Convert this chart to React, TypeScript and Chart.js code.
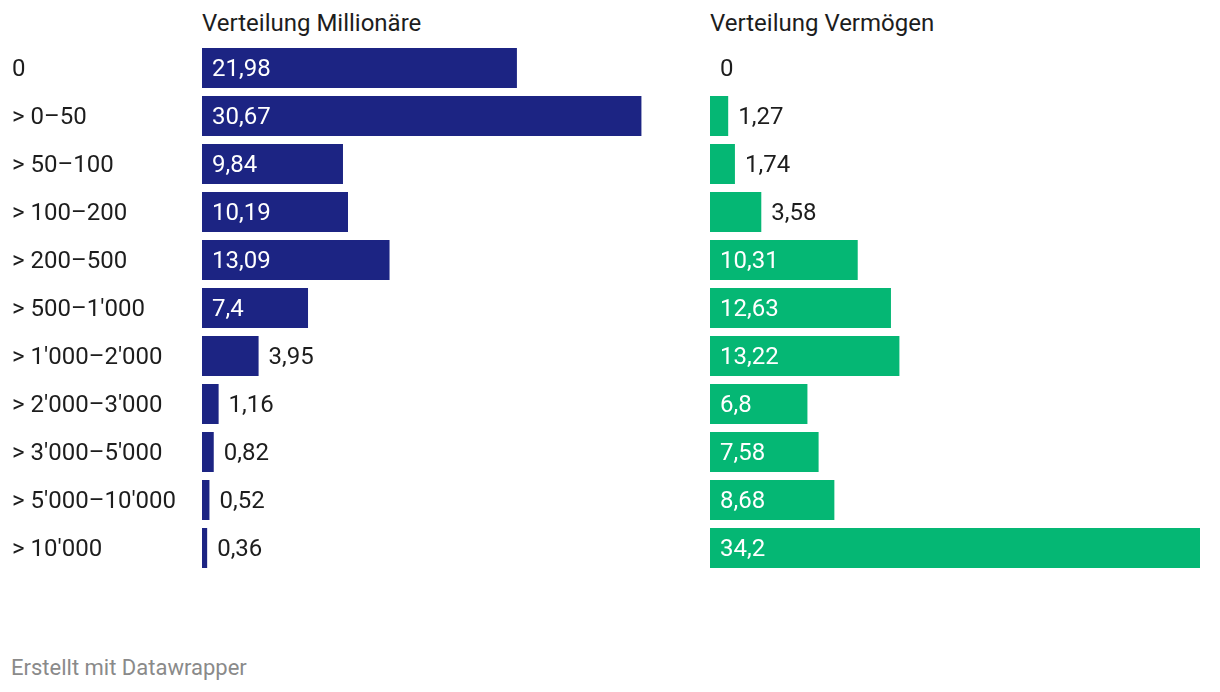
import React, { useEffect, useRef } from "react";
import { Chart, registerables } from "chart.js";

Chart.register(...registerables);

const categories = [
  "0",
  "> 0–50",
  "> 50–100",
  "> 100–200",
  "> 200–500",
  "> 500–1'000",
  "> 1'000–2'000",
  "> 2'000–3'000",
  "> 3'000–5'000",
  "> 5'000–10'000",
  "> 10'000",
];
const millionaere = [21.98, 30.67, 9.84, 10.19, 13.09, 7.4, 3.95, 1.16, 0.82, 0.52, 0.36];
const vermoegen = [0, 1.27, 1.74, 3.58, 10.31, 12.63, 13.22, 6.8, 7.58, 8.68, 34.2];
const titleLeft = "Verteilung Millionäre";
const titleRight = "Verteilung Vermögen";
const footer = "Erstellt mit Datawrapper";
const xMax = 34.2;

const FONT = "Roboto, 'Noto Sans', sans-serif";
const FS = 24;

const valueLabels = {
  id: "valueLabels",
  afterDatasetsDraw(chart: any) {
    const ctx = chart.ctx;
    const meta = chart.getDatasetMeta(0);
    const data = chart.data.datasets[0].data as number[];
    ctx.save();
    ctx.font = `${FS}px ${FONT}`;
    ctx.textBaseline = "middle";
    ctx.textAlign = "left";
    meta.data.forEach((bar: any, i: number) => {
      const txt = String(data[i]).replace(".", ",");
      const tw = ctx.measureText(txt).width;
      const w = bar.x - bar.base;
      if (w > tw + 20) {
        ctx.fillStyle = "#ffffff";
        ctx.fillText(txt, bar.base + 10, bar.y + 2);
      } else {
        ctx.fillStyle = "#1d1d1d";
        ctx.fillText(txt, bar.x + 10, bar.y + 2);
      }
    });
    ctx.restore();
  },
};

function makeChart(canvas: HTMLCanvasElement, values: number[], color: string, showLabels: boolean) {
  return new Chart(canvas, {
    type: "bar",
    data: {
      labels: categories,
      datasets: [
        {
          data: values,
          backgroundColor: color,
          borderWidth: 0,
          barPercentage: 40 / 48,
          categoryPercentage: 1,
        },
      ],
    },
    options: {
      indexAxis: "y",
      animation: false,
      responsive: false,
      maintainAspectRatio: false,
      events: [],
      layout: {
        padding: showLabels
          ? { left: 12, right: 8, top: 44, bottom: 28 }
          : { left: 10, right: 20, top: 44, bottom: 28 },
      },
      plugins: {
        legend: { display: false },
        tooltip: { enabled: false },
        title: { display: false },
      },
      scales: {
        x: {
          display: false,
          min: 0,
          max: xMax,
          grid: { display: false },
        },
        y: {
          display: showLabels,
          grid: { display: false, drawTicks: false },
          border: { display: false },
          ticks: {
            crossAlign: "far",
            padding: 0,
            labelOffset: 2,
            color: "#1d1d1d",
            font: { family: FONT, size: FS },
          },
          afterFit(scale: any) {
            scale.width = showLabels ? 190 : 0;
          },
        },
      },
    },
    plugins: [valueLabels],
  } as any);
}

export default function App() {
  const leftRef = useRef<HTMLCanvasElement>(null);
  const rightRef = useRef<HTMLCanvasElement>(null);

  useEffect(() => {
    const c1 = makeChart(leftRef.current!, millionaere, "#1c2483", true);
    const c2 = makeChart(rightRef.current!, vermoegen, "#05b774", false);
    return () => {
      c1.destroy();
      c2.destroy();
    };
  }, []);

  const titleStyle: React.CSSProperties = {
    position: "absolute",
    top: 9,
    fontFamily: FONT,
    fontSize: FS,
    lineHeight: "28px",
    color: "#1d1d1d",
    whiteSpace: "nowrap",
  };

  return (
    <div style={{ position: "absolute", left: 0, top: 0, width: 1220, height: 692, background: "#fff" }}>
      <div style={{ ...titleStyle, left: 202 }}>{titleLeft}</div>
      <div style={{ ...titleStyle, left: 710 }}>{titleRight}</div>
      <canvas ref={leftRef} width={700} height={600} style={{ position: "absolute", left: 0, top: 0 }} />
      <canvas ref={rightRef} width={520} height={600} style={{ position: "absolute", left: 700, top: 0 }} />
      <div
        style={{
          position: "absolute",
          left: 11,
          top: 655,
          fontFamily: FONT,
          fontSize: 22,
          lineHeight: "26px",
          color: "#8a8a8a",
          whiteSpace: "nowrap",
        }}
      >
        {footer}
      </div>
    </div>
  );
}
